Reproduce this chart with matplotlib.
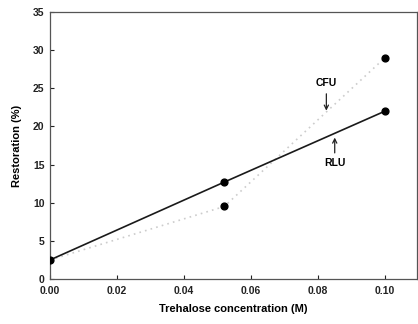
import numpy as np
import matplotlib.pyplot as plt

conc = [0.0, 0.052, 0.10]
rlu = [2.5, 12.7, 22.0]
cfu = [2.5, 9.5, 29.0]

plt.rcParams['font.family'] = ['Liberation Sans', 'DejaVu Sans']
plt.rcParams['font.weight'] = 'bold'

fig = plt.figure(figsize=(4.18, 3.24), dpi=100)
ax = fig.add_axes([0.12, 0.139, 0.877, 0.824])

# CFU: faint dotted line, RLU: solid line
ax.plot(conc, cfu, color='#cccccc', linestyle=(0, (1, 2.5)), linewidth=1.2, zorder=1)
ax.plot(conc, rlu, color='#1a1a1a', linewidth=1.2, zorder=2)
ax.scatter(conc, rlu, color='black', s=24, zorder=3)
ax.scatter(conc[1:], cfu[1:], color='black', s=24, zorder=3)

ax.annotate('CFU', xy=(0.0825, 21.7), xytext=(0.0825, 25.0),
            ha='center', va='bottom', fontsize=7.5, fontweight='bold',
            arrowprops=dict(arrowstyle='->', color='#222222', lw=0.9))
ax.annotate('RLU', xy=(0.085, 18.9), xytext=(0.085, 15.8),
            ha='center', va='top', fontsize=7.5, fontweight='bold',
            arrowprops=dict(arrowstyle='->', color='#222222', lw=0.9))

ax.set_xlim(0, 0.1095)
ax.set_ylim(0, 35)
ax.set_xticks([0.0, 0.02, 0.04, 0.06, 0.08, 0.10])
ax.set_xticklabels(['0.00', '0.02', '0.04', '0.06', '0.08', '0.10'])
ax.set_yticks([0, 5, 10, 15, 20, 25, 30, 35])
ax.tick_params(direction='in', length=3, width=0.8, labelsize=7.5, colors='#222222')
ax.tick_params(axis='x', pad=5)
ax.tick_params(axis='y', pad=4)
for s in ax.spines.values():
    s.set_color('#555555')
    s.set_linewidth(0.9)

ax.set_xlabel('Trehalose concentration (M)', fontsize=8, fontweight='bold', labelpad=6)
ax.set_ylabel('Restoration (%)', fontsize=8, fontweight='bold', labelpad=8)

fig.savefig('out.png', dpi=100)
